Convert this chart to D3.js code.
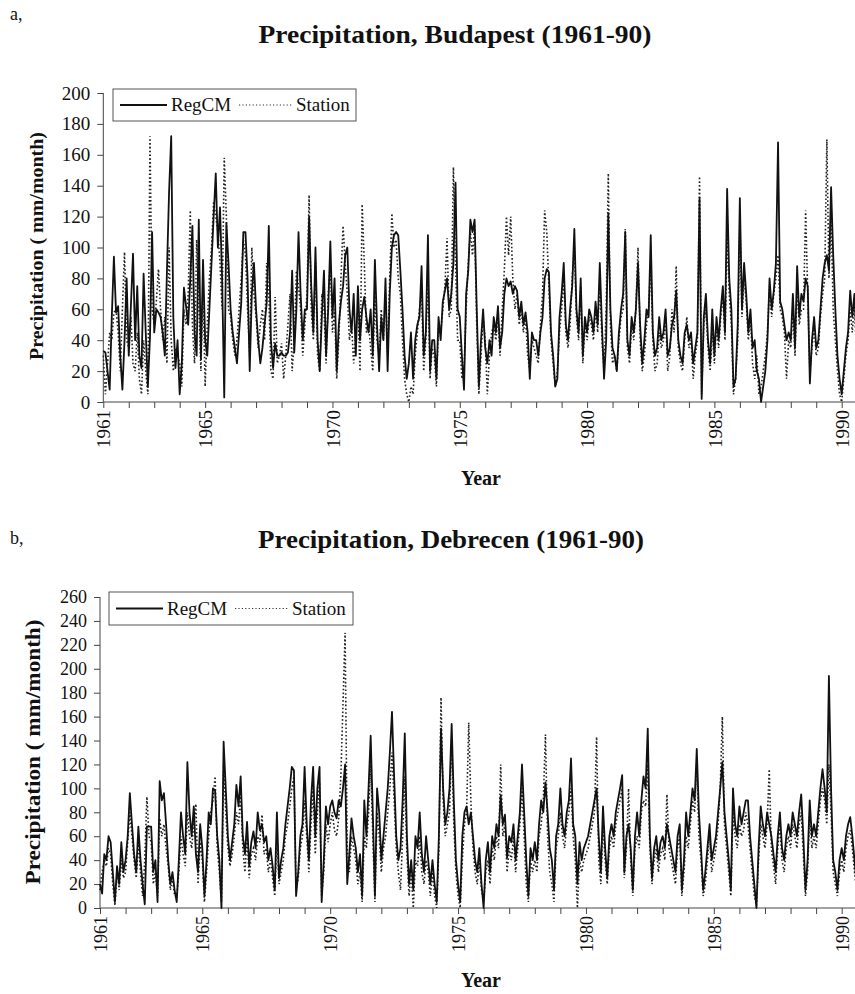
<!DOCTYPE html>
<html lang="en">
<head>
   <meta charset="UTF-8">
   <title>Precipitation, Budapest and Debrecen</title>
   <script src="https://cdn.jsdelivr.net/npm/d3@7"></script>
   <style>
      body { margin: 0; background: white; }
      text { font-family: "Liberation Serif", "Times New Roman", serif; fill: #111; }
      .domain, .tick line { stroke: #444; }
   </style>
</head>
<body>
<div id="chart"></div>
<script>
   // monthly values, Jan 1961 .. Dec 1990, one row per year
   const budapestRegCM = [
      33, 32, 20, 8, 55, 94, 58, 62, 30, 8, 40, 80,
      30, 62, 96, 40, 75, 30, 22, 83, 45, 10, 42, 110,
      45, 60, 58, 55, 45, 30, 85, 136, 172, 55, 22, 40,
      5, 25, 74, 62, 50, 80, 114, 45, 30, 118, 28, 92,
      40, 30, 60, 90, 120, 148, 100, 126, 80, 3, 116, 90,
      60, 45, 35, 25, 45, 64, 110, 110, 80, 20, 70, 90,
      60, 40, 25, 35, 50, 64, 114, 40, 22, 38, 30, 30,
      32, 30, 30, 32, 45, 85, 32, 60, 110, 70, 40, 60,
      60, 120, 75, 45, 100, 40, 20, 55, 85, 30, 60, 104,
      55, 80, 20, 50, 65, 75, 95, 100, 60, 45, 70, 30,
      75, 40, 60, 68, 55, 45, 60, 30, 92, 50, 20, 55,
      40, 80, 20, 70, 100, 108, 110, 108, 85, 60, 30, 15,
      25, 45, 15, 40, 50, 55, 88, 30, 45, 108, 20, 40,
      40, 15, 55, 40, 65, 72, 80, 60, 70, 90, 142, 60,
      55, 30, 8, 70, 85, 118, 110, 118, 60, 10, 40, 60,
      35, 25, 40, 30, 55, 45, 62, 35, 45, 70, 80, 75,
      78, 70, 75, 72, 55, 65, 50, 58, 45, 15, 45, 40,
      40, 30, 45, 55, 80, 86, 84, 45, 30, 10, 15, 55,
      70, 90, 50, 40, 60, 75, 112, 60, 45, 80, 30, 55,
      45, 60, 55, 45, 65, 50, 90, 50, 15, 40, 122, 60,
      35, 30, 20, 45, 60, 70, 110, 40, 30, 55, 45, 60,
      90, 50, 25, 40, 60, 55, 108, 45, 30, 35, 55, 40,
      45, 60, 30, 35, 50, 55, 72, 40, 30, 25, 45, 50,
      40, 45, 25, 35, 45, 132, 2, 55, 70, 40, 25, 60,
      30, 55, 40, 60, 75, 45, 138, 80, 60, 10, 15, 50,
      132, 60, 90, 70, 45, 60, 35, 40, 20, 15, 0, 10,
      20, 40, 80, 60, 72, 90, 168, 65, 60, 50, 40, 45,
      40, 70, 35, 88, 55, 70, 65, 80, 75, 12, 40, 55,
      35, 40, 60, 80, 90, 95, 85, 139, 95, 60, 30, 15,
      5, 20, 35, 45, 72, 55, 70, 40, 45, 50, 40, 45
   ]

   const budapestStation = [
      30, 5, 25, 45, 40, 58, 60, 45, 20, 60, 97, 40,
      35, 55, 25, 20, 45, 15, 5, 40, 20, 5, 172, 60,
      50, 65, 86, 60, 40, 55, 25, 100, 40, 20, 35, 30,
      25, 10, 60, 50, 70, 124, 50, 25, 105, 65, 20, 75,
      10, 50, 80, 100, 130, 120, 110, 90, 60, 158, 120, 60,
      55, 40, 30, 40, 60, 80, 105, 95, 60, 30, 100, 70,
      55, 35, 50, 60, 40, 90, 70, 20, 15, 68, 25, 30,
      38, 15, 30, 50, 70, 20, 40, 85, 75, 60, 30, 50,
      70, 134, 60, 40, 90, 30, 20, 70, 60, 25, 70, 90,
      45, 60, 15, 40, 80, 114, 90, 70, 40, 50, 25, 45,
      60, 20, 128, 90, 45, 50, 35, 20, 70, 40, 30, 60,
      40, 70, 30, 80, 122, 100, 105, 80, 70, 40, 15, 5,
      0, 10, 5, 30, 45, 60, 70, 20, 40, 80, 15, 35,
      30, 10, 50, 45, 60, 75, 106, 55, 60, 152, 90, 40,
      40, 15, 20, 60, 90, 110, 95, 115, 50, 5, 30, 55,
      40, 5, 30, 45, 50, 40, 55, 30, 60, 85, 120, 95,
      120, 80, 60, 70, 50, 60, 45, 55, 30, 20, 40, 35,
      30, 25, 50, 70, 124, 110, 75, 40, 25, 10, 20, 45,
      60, 80, 45, 35, 50, 80, 100, 55, 40, 75, 25, 50,
      40, 55, 50, 40, 60, 45, 80, 40, 20, 60, 148, 50,
      25, 30, 20, 40, 55, 60, 112, 35, 25, 50, 40, 60,
      100, 40, 20, 30, 50, 60, 90, 40, 20, 25, 45, 35,
      40, 55, 20, 30, 60, 45, 88, 35, 25, 20, 40, 55,
      35, 40, 15, 30, 40, 146, 5, 50, 60, 35, 20, 45,
      25, 50, 35, 55, 70, 40, 110, 70, 50, 5, 15, 40,
      120, 55, 80, 65, 40, 55, 25, 15, 30, 5, 10, 20,
      30, 45, 75, 55, 70, 80, 95, 60, 55, 45, 15, 40,
      35, 60, 30, 75, 50, 60, 60, 124, 70, 20, 35, 50,
      30, 35, 55, 70, 80, 170, 80, 120, 60, 40, 20, 5,
      0, 15, 30, 40, 60, 45, 65, 30, 40, 45, 35, 40
   ]

   const debrecenRegCM = [
      20, 12, 45, 40, 60, 55, 30, 5, 35, 20, 55, 30,
      40, 60, 96, 70, 45, 30, 68, 40, 20, 3, 68, 68,
      68, 30, 40, 5, 106, 90, 96, 70, 40, 20, 30, 15,
      5, 40, 80, 60, 45, 122, 80, 60, 85, 45, 30, 70,
      50, 10, 40, 80, 70, 100, 98, 60, 40, 0, 139, 100,
      60, 40, 55, 70, 103, 85, 110, 60, 45, 72, 35, 55,
      64, 50, 80, 65, 70, 55, 60, 40, 50, 35, 15, 80,
      25, 40, 50, 70, 85, 100, 118, 115, 10, 30, 60, 70,
      118, 70, 40, 90, 118, 60, 100, 118, 5, 40, 85, 70,
      85, 90, 80, 75, 90, 85, 100, 120, 20, 45, 75, 60,
      50, 30, 45, 10, 90, 60, 100, 144, 80, 10, 100, 80,
      40, 60, 80, 100, 130, 164, 110, 60, 40, 50, 90, 146,
      60, 20, 40, 15, 60, 50, 80, 45, 30, 60, 40, 20,
      40, 20, 5, 60, 150, 100, 70, 80, 100, 154, 90, 40,
      20, 5, 60, 80, 85, 70, 80, 60, 40, 30, 50, 20,
      0, 40, 55, 30, 60, 50, 70, 60, 94, 70, 78, 42,
      60, 55, 70, 40, 60, 80, 120, 80, 40, 10, 50, 40,
      55, 40, 70, 90, 80, 105, 80, 50, 40, 15, 60, 70,
      100, 70, 60, 80, 90, 125, 70, 60, 20, 55, 40, 50,
      55, 60, 70, 80, 90, 100, 60, 30, 85, 50, 25, 60,
      70, 60, 80, 90, 100, 111, 30, 60, 70, 50, 15, 60,
      80, 60, 90, 110, 100, 150, 60, 25, 50, 60, 40, 55,
      60, 50, 70, 60, 50, 40, 30, 60, 70, 15, 40, 80,
      60, 80, 100, 90, 133, 80, 50, 15, 30, 50, 70, 40,
      50, 60, 80, 100, 122, 80, 60, 40, 15, 100, 70, 60,
      85, 70, 80, 90, 90, 60, 40, 20, 0, 50, 85, 70,
      60, 80, 70, 60, 45, 30, 60, 80, 50, 40, 60, 70,
      60, 80, 70, 60, 80, 95, 60, 15, 40, 90, 60, 70,
      60, 80, 100, 116, 100, 80, 194, 100, 40, 30, 15, 40,
      50, 40, 60, 70, 76, 60, 40, 20, 35, 55, 40, 45
   ]

   const debrecenStation = [
      15, 30, 40, 35, 50, 45, 20, 2, 30, 15, 40, 25,
      30, 55, 80, 60, 40, 25, 55, 30, 10, 40, 93, 60,
      55, 20, 30, 10, 75, 60, 70, 50, 35, 15, 25, 10,
      10, 30, 60, 45, 35, 80, 60, 50, 70, 87, 20, 55,
      40, 5, 30, 60, 80, 90, 110, 50, 30, 5, 120, 80,
      50, 35, 45, 60, 80, 70, 95, 50, 30, 60, 25, 45,
      50, 40, 60, 55, 78, 45, 50, 30, 40, 25, 10, 60,
      20, 30, 40, 60, 70, 85, 100, 110, 15, 25, 50, 60,
      90, 60, 30, 70, 100, 45, 80, 105, 10, 30, 70, 55,
      70, 80, 65, 60, 75, 110, 170, 230, 50, 30, 60, 50,
      40, 20, 30, 5, 60, 50, 80, 120, 60, 5, 80, 60,
      30, 50, 60, 80, 100, 130, 90, 50, 30, 15, 60, 110,
      45, 10, 30, 0, 40, 35, 60, 30, 20, 40, 30, 10,
      30, 10, 0, 50, 176, 90, 60, 70, 80, 140, 70, 30,
      10, 0, 40, 70, 80, 155, 90, 50, 30, 20, 40, 15,
      5, 30, 40, 20, 50, 40, 60, 50, 120, 60, 70, 30,
      50, 40, 60, 30, 50, 70, 100, 60, 20, 5, 40, 30,
      40, 30, 60, 70, 90, 145, 60, 30, 20, 5, 50, 60,
      80, 60, 50, 70, 80, 100, 60, 40, 0, 40, 30, 40,
      45, 50, 60, 70, 80, 143, 40, 20, 70, 40, 20, 50,
      60, 50, 70, 80, 90, 100, 25, 50, 100, 40, 10, 50,
      60, 50, 80, 90, 85, 120, 50, 20, 40, 50, 30, 45,
      50, 40, 95, 50, 40, 30, 20, 50, 60, 10, 30, 60,
      50, 70, 90, 80, 120, 60, 40, 10, 20, 40, 60, 30,
      40, 50, 70, 100, 160, 70, 50, 30, 10, 80, 60, 50,
      70, 60, 65, 80, 70, 50, 30, 10, 2, 40, 70, 60,
      50, 70, 116, 50, 35, 20, 50, 70, 40, 30, 50, 60,
      50, 70, 60, 50, 70, 80, 45, 10, 30, 80, 50, 60,
      50, 70, 90, 100, 90, 70, 120, 80, 30, 20, 10, 30,
      40, 30, 50, 60, 65, 50, 30, 15, 30, 45, 35, 40
   ]

   const yearTickLabels = [1961, 1965, 1970, 1975, 1980, 1985, 1990]
   const seriesNames = ['RegCM', 'Station']

   const svg = d3.select('#chart').append('svg')
      .attr('width', 855)
      .attr('height', 994)

   function drawPanel(p) {
      const g = svg.append('g')

      // scales
      const xScale = d3.scaleLinear()
         .domain([1961, 1990])
         .range([p.x1961, p.x1990])

      const yScale = d3.scaleLinear()
         .domain([0, p.yMax])
         .range([p.yBottom, p.yTop])

      // panel letter and title
      g.append('text')
         .attr('x', 10)
         .attr('y', p.letterY)
         .style('font-size', '18px')
         .text(p.letter)

      g.append('text')
         .attr('x', p.titleX)
         .attr('y', p.titleY)
         .attr('text-anchor', 'middle')
         .attr('textLength', p.titleLen)
         .attr('lengthAdjust', 'spacingAndGlyphs')
         .style('font-size', '25px')
         .style('font-weight', 'bold')
         .text(p.title)

      // axes
      const xAxis = d3.axisBottom(xScale)
         .tickValues(d3.range(1961, 1992))
         .tickSize(6)
         .tickFormat(d => yearTickLabels.includes(d) ? d : '')

      const xAxisGroup = g.append('g')
         .attr('font-family', null)
         .attr('transform', `translate(0, ${p.yBottom})`)
         .call(xAxis)

      xAxisGroup.select('.domain')
         .attr('d', `M${p.x1961},0H900`)

      xAxisGroup.selectAll('.tick text')
         .attr('transform', 'rotate(-90)')
         .attr('text-anchor', 'end')
         .attr('x', -8)
         .attr('y', 0)
         .attr('dy', '0.35em')
         .style('font-size', p.xTickFont + 'px')

      const yAxis = d3.axisLeft(yScale)
         .tickValues(d3.range(0, p.yMax + 1, 20))
         .tickSize(6)
         .tickPadding(7)

      const yAxisGroup = g.append('g')
         .attr('transform', `translate(${p.x1961}, 0)`)
         .call(yAxis)
         .attr('font-family', null)

      yAxisGroup.select('.domain').attr('d', `M0,${p.yBottom}V${p.yTop}`)
      yAxisGroup.selectAll('.tick text')
         .style('font-size', p.yTickFont + 'px')

      // axis titles
      g.append('text')
         .attr('transform', `translate(${p.yLabelX}, ${p.yLabelY}) rotate(-90)`)
         .attr('text-anchor', 'middle')
         .attr('textLength', p.yLabelLen)
         .attr('lengthAdjust', 'spacingAndGlyphs')
         .style('font-size', p.yLabelFont + 'px')
         .style('font-weight', 'bold')
         .text('Precipitation ( mm/month)')

      g.append('text')
         .attr('x', 481)
         .attr('y', p.yearY)
         .attr('text-anchor', 'middle')
         .style('font-size', '20px')
         .style('font-weight', 'bold')
         .text('Year')

      // lines
      const line = d3.line()
         .x((d, i) => xScale(1961 + i / 12))
         .y(d => yScale(d))

      g.append('path')
         .datum(p.station)
         .attr('d', line)
         .attr('fill', 'none')
         .attr('stroke', '#222')
         .attr('stroke-width', 1.6)
         .attr('stroke-dasharray', '1.6,2.2')

      g.append('path')
         .datum(p.regcm)
         .attr('d', line)
         .attr('fill', 'none')
         .attr('stroke', '#111')
         .attr('stroke-width', 1.8)
         .attr('stroke-linejoin', 'round')

      // legend
      const lg = p.legend
      const legend = g.append('g')
         .attr('transform', `translate(${lg.x}, ${lg.y})`)

      legend.append('rect')
         .attr('width', lg.w)
         .attr('height', lg.h)
         .attr('fill', 'white')
         .attr('stroke', '#555')
         .attr('stroke-width', 1)

      legend.append('line')
         .attr('x1', 7).attr('x2', 54)
         .attr('y1', lg.h / 2).attr('y2', lg.h / 2)
         .attr('stroke', '#111')
         .attr('stroke-width', 1.8)

      legend.append('text')
         .attr('x', 58)
         .attr('y', lg.h / 2 + 6)
         .style('font-size', '19px')
         .text(seriesNames[0])

      legend.append('line')
         .attr('x1', 126).attr('x2', 180)
         .attr('y1', lg.h / 2).attr('y2', lg.h / 2)
         .attr('stroke', '#333')
         .attr('stroke-width', 1.2)
         .attr('stroke-dasharray', '1.2,2.2')

      legend.append('text')
         .attr('x', 183)
         .attr('y', lg.h / 2 + 6)
         .style('font-size', '19px')
         .text(seriesNames[1])
   }

   drawPanel({
      letter: 'a,', letterY: 20,
      title: 'Precipitation, Budapest (1961-90)', titleX: 455, titleY: 43, titleLen: 393,
      x1961: 103.3, x1990: 841.7, yTop: 93, yBottom: 402, yMax: 200,
      regcm: budapestRegCM, station: budapestStation,
      legend: { x: 113, y: 89, w: 243, h: 32 },
      yLabelX: 43, yLabelY: 246, yLabelLen: 228, yLabelFont: 19,
      yTickFont: 19, xTickFont: 19, yearY: 485
   })

   drawPanel({
      letter: 'b,', letterY: 544,
      title: 'Precipitation, Debrecen (1961-90)', titleX: 451, titleY: 548, titleLen: 386,
      x1961: 100, x1990: 841.7, yTop: 597, yBottom: 908, yMax: 260,
      regcm: debrecenRegCM, station: debrecenStation,
      legend: { x: 109, y: 592, w: 244, h: 33 },
      yLabelX: 40, yLabelY: 752, yLabelLen: 265, yLabelFont: 20,
      yTickFont: 18, xTickFont: 18, yearY: 987
   })
</script>
</body>
</html>
